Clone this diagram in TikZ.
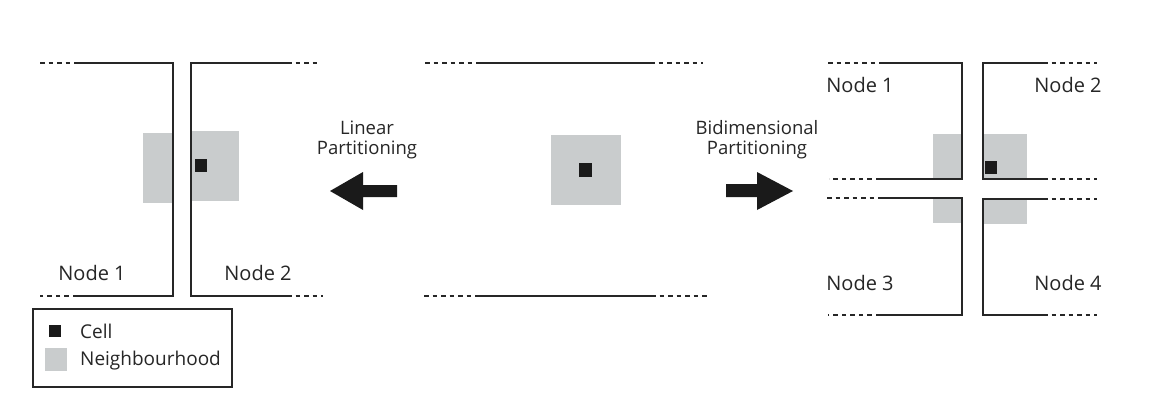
\documentclass[tikz,border=0pt]{standalone}
\usepackage{fontspec}
\setmainfont{Open Sans}
\definecolor{edge}{HTML}{262626}
\definecolor{nbh}{HTML}{C9CCCD}
\definecolor{cellc}{HTML}{1A1A1A}
\begin{document}
\begin{tikzpicture}[x=1pt,y=-1pt,
  wall/.style={draw=edge,line width=1.4pt},
  dashline/.style={draw=edge,line width=1.1pt,dash pattern=on 4.5pt off 4pt},
  nb/.style={fill=nbh},
  cellsq/.style={fill=cellc},
  lbl/.style={font=\fontsize{20}{23}\selectfont,text=edge,inner sep=0pt},
  legtext/.style={font=\fontsize{19}{22}\selectfont,text=edge,inner sep=0pt},
  captext/.style={font=\fontsize{18.5}{20}\selectfont,text=edge,inner sep=0pt,align=center},
  bigarrow/.style={fill=cellc}]
\useasboundingbox[fill=white] (0,0) rectangle (1164,404);

% ---------- left panel: linear partitioning ----------
\fill[nb] (143,133) rectangle (173,203);
\fill[nb] (191,131) rectangle (239,201);
\fill[cellsq] (195,159) rectangle (207,172);
\draw[dashline] (40,63) -- (77,63);
\draw[wall] (77,63) -- (173,63) -- (173,296) -- (77,296);
\draw[dashline] (77,296) -- (40,296);
\draw[wall] (287,63) -- (191,63) -- (191,296) -- (287,296);
\draw[dashline] (287,63) -- (320,63);
\draw[dashline] (287,296) -- (323,296);
\node[lbl] (l1) at (92,273) {Node 1};
\node[lbl] (l2) at (258,273) {Node 2};

% ---------- legend ----------
\draw[edge,line width=1.2pt] (33,309) rectangle (232,387);
\fill[cellsq] (49,325) rectangle (61,337);
\fill[nb] (45,348) rectangle (67,371);
\node[legtext,anchor=west] (cellt) at (80,331) {Cell};
\node[legtext,anchor=west] (nbt) at (80,361) {Neighbourhood};

% ---------- arrows ----------
\node[captext] (lin) at (367,140) {Linear\\Partitioning};
\fill[bigarrow] (330,191) -- (363,172) -- (363,185) -- (397,185) -- (397,197) -- (363,197) -- (363,210) -- cycle;
\node[captext] (bid) at (757,140) {Bidimensional\\Partitioning};
\fill[bigarrow] (793,191) -- (757,172) -- (757,184) -- (726,184) -- (726,197) -- (757,197) -- (757,210) -- cycle;

% ---------- centre panel ----------
\fill[nb] (551,135) rectangle (621,205);
\fill[cellsq] (579,163) rectangle (592,177);
\draw[dashline] (425,63) -- (477,63);
\draw[wall] (477,63) -- (650,63);
\draw[dashline] (650,63) -- (703,63);
\draw[dashline] (424,296) -- (477,296);
\draw[wall] (477,296) -- (651,296);
\draw[dashline] (651,296) -- (708,296);

% ---------- right panel: bidimensional partitioning ----------
\fill[nb] (933,134) rectangle (962,179);
\fill[nb] (983,134) rectangle (1027,179);
\fill[nb] (933,198) rectangle (962,223);
\fill[nb] (983,199) rectangle (1027,224);
\fill[cellsq] (985,161) rectangle (997,174);
% node 1
\draw[dashline] (828,63) -- (880,63);
\draw[wall] (880,63) -- (962,63) -- (962,179) -- (880,179);
\draw[dashline] (880,179) -- (829,179);
% node 2
\draw[wall] (1043,63) -- (983,63) -- (983,179) -- (1043,179);
\draw[dashline] (1043,63) -- (1097,63);
\draw[dashline] (1043,179) -- (1097,179);
% node 3
\draw[dashline] (827,198) -- (880,198);
\draw[wall] (880,198) -- (962,198) -- (962,315) -- (880,315);
\draw[dashline] (880,315) -- (828,315);
% node 4
\draw[wall] (1043,199) -- (983,199) -- (983,315) -- (1043,315);
\draw[dashline] (1043,199) -- (1097,199);
\draw[dashline] (1043,315) -- (1097,315);
\node[lbl] (r1) at (860,85) {Node 1};
\node[lbl] (r2) at (1068,85) {Node 2};
\node[lbl] (r3) at (860,283) {Node 3};
\node[lbl] (r4) at (1068,283) {Node 4};
\end{tikzpicture}
\end{document}
